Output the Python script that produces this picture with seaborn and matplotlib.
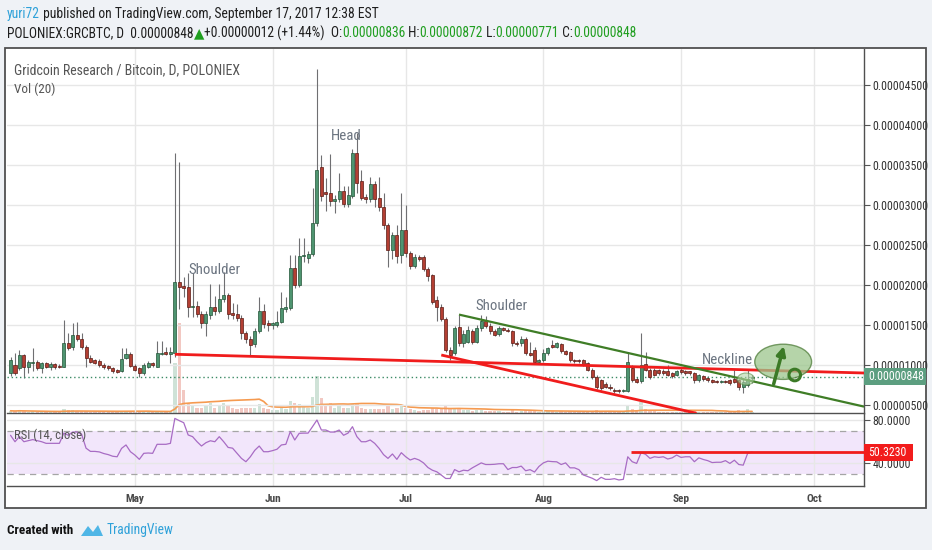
import numpy as np
import pandas as pd
import matplotlib
matplotlib.use("Agg")
import matplotlib.pyplot as plt
import matplotlib.dates as mdates
from matplotlib.patches import Rectangle, Ellipse, Polygon
import seaborn as sns
import logging
logging.getLogger("matplotlib.font_manager").setLevel(logging.ERROR)

# ---------------- data (prices in units of 1e-6 BTC) -------------
START, END = "2017-04-03", "2017-09-17"

open_apr = [8.96,10.0,9.6,11.3,9.8,10.3,10.4,9.6,10.2,9.8,10.1,9.9,9.8,12.8,12.3,13.75,13.3,12.3,10.85,10.6,10.5,10.0,9.9,9.6,9.35,9.2,10.9,11.4]
high_apr = [11.0,11.46,11.9,11.4,10.6,12.1,10.6,10.4,10.4,10.4,10.3,10.1,15.6,14.0,15.3,15.4,14.0,12.5,11.2,10.8,10.7,10.2,10.0,9.8,9.5,12.1,12.1,11.6]
low_apr = [8.6,8.75,9.4,8.4,9.0,9.3,9.4,9.0,9.6,9.4,9.5,9.6,9.7,11.9,11.9,13.0,12.0,9.8,10.2,10.1,9.8,9.5,9.4,9.0,9.0,9.1,10.7,9.8]
close_apr = [10.6,9.0,11.3,9.8,10.4,10.4,9.6,10.2,9.8,10.1,9.8,9.8,12.7,12.1,13.75,13.3,12.3,10.85,10.4,10.3,9.95,9.7,9.6,9.2,9.15,10.8,11.4,9.9]

open_may = [9.9,9.6,9.0,9.8,10.2,9.8,11.4,11.6,11.4,11.5,20.4,19.9,19.7,17.2,17.4,16.4,15.2,16.3,17.3,16.8,18.2,18.7,16.5,16.4,15.9,14.0,13.2,12.6,14.3,16.8,15.2]
high_may = [10.1,9.8,10.3,10.5,10.4,13.0,13.0,12.3,12.2,36.5,35.4,21.0,21.5,21.5,18.0,16.8,16.8,20.1,18.6,20.1,21.6,19.0,17.7,17.6,16.2,14.3,13.6,14.6,18.5,17.6,15.6]
low_may = [9.2,8.5,8.7,9.6,9.8,9.7,11.2,11.2,10.2,11.0,17.0,18.5,16.0,16.0,16.0,14.6,13.6,15.8,16.3,16.5,17.9,15.8,15.8,15.5,13.3,12.8,11.2,12.3,14.0,14.6,14.3]
close_may = [9.4,8.96,10.0,10.2,10.0,11.5,11.5,11.4,11.6,20.4,19.8,19.6,17.3,17.4,16.4,15.2,16.4,17.3,16.7,18.2,18.7,16.4,16.3,15.9,14.0,13.2,12.5,14.3,16.8,15.1,15.0]

open_jun = [15.0,15.0,15.4,17.0,17.1,22.1,20.0,23.6,23.4,23.9,27.7,34.8,31.6,31.5,30.5,30.7,31.7,30.1,31.1,36.5,33.0,31.0,30.7,32.6,30.9,29.7,27.5,24.4,26.3,23.7]
high_jun = [15.4,16.8,19.1,18.5,23.8,23.8,25.9,25.9,24.2,32.1,47.0,36.2,33.4,36.4,31.2,34.0,32.4,32.4,37.0,39.0,34.4,31.4,33.5,33.0,33.5,31.5,27.8,26.6,27.5,31.5]
low_jun = [14.5,14.8,15.2,16.6,16.9,19.6,19.8,22.9,22.8,23.6,27.4,30.5,29.3,29.9,29.0,30.4,29.8,29.8,30.9,31.5,30.6,30.2,30.4,29.8,29.3,27.0,22.3,23.3,22.8,22.8]
close_jun = [15.2,15.4,17.1,17.2,22.1,20.0,23.6,23.7,23.9,27.8,34.4,31.1,31.4,30.5,30.8,31.7,30.1,31.2,36.5,32.8,30.9,30.7,32.6,30.8,29.7,27.45,24.4,26.3,23.6,26.9]

open_jul = [26.9,24.0,22.4,23.5,23.5,22.0,21.2,18.1,17.3,15.7,11.9,11.5,14.7,12.7,12.9,14.2,12.9,14.6,15.5,14.9,14.2,13.9,14.6,14.4,14.2,12.8,12.7,13.3,11.5,11.9,10.4]
high_jul = [30.0,24.3,23.9,23.8,23.7,22.3,21.4,18.6,17.6,16.0,12.2,14.9,16.3,14.4,14.9,14.5,15.0,16.2,16.1,15.2,14.5,14.9,14.8,14.6,14.4,13.0,13.6,13.5,12.9,12.2,10.8]
low_jul = [23.5,22.0,22.1,23.0,21.7,20.5,17.6,15.5,15.5,11.6,10.6,11.3,12.4,12.3,12.7,12.6,12.7,14.3,14.6,13.9,13.6,13.6,14.2,14.1,12.4,12.4,12.4,11.3,11.1,10.2,10.2]
close_jul = [24.0,22.4,23.5,23.3,22.0,21.1,17.9,17.3,15.8,11.9,11.3,14.6,12.7,13.9,14.4,12.9,14.6,15.5,14.9,14.2,13.8,14.6,14.4,14.3,12.7,12.6,13.3,11.5,11.3,10.4,10.6]

open_aug = [10.6,11.5,12.5,12.3,12.6,11.7,11.6,10.6,10.6,10.6,10.2,9.4,8.5,8.1,7.6,7.3,6.9,6.9,6.7,6.7,9.6,8.3,8.0,10.1,9.4,9.4,9.4,9.3,9.2,8.96,8.75]
high_aug = [12.0,12.3,13.1,12.9,12.8,11.9,11.8,10.8,10.8,10.8,10.4,9.6,8.7,8.3,7.9,7.6,7.1,7.0,7.0,11.65,10.0,8.5,13.96,11.65,9.6,9.6,9.5,9.5,10.0,9.1,9.4]
low_aug = [10.4,11.3,12.1,12.1,11.5,11.2,10.4,10.3,10.3,9.9,9.2,8.3,7.0,6.9,7.1,6.9,6.5,6.5,6.6,6.6,7.9,7.7,7.8,9.2,8.3,8.6,8.8,8.8,8.6,8.4,8.6]
close_aug = [11.5,12.1,12.3,12.8,11.7,11.4,10.6,10.5,10.5,10.1,9.38,8.5,7.2,7.1,7.3,7.1,6.7,6.7,6.9,10.4,8.1,7.9,10.0,9.4,8.5,8.75,8.96,8.96,8.75,8.6,9.2]

open_sep = [9.4,9.2,9.2,9.0,8.1,8.6,8.4,8.1,8.0,7.9,8.0,8.1,8.3,8.1,7.3,7.5,8.36]
high_sep = [9.6,9.4,9.3,9.1,8.9,8.8,8.6,8.2,8.1,8.1,8.1,8.2,9.4,8.3,8.3,9.4,8.72]
low_sep = [8.9,8.8,8.8,7.7,7.9,8.0,7.9,7.8,7.8,7.8,7.8,7.5,7.8,6.9,6.5,7.3,7.71]
close_sep = [9.1,8.96,8.96,8.1,8.75,8.2,8.1,7.9,7.9,8.0,7.9,7.7,7.9,7.3,7.9,8.3,8.48]

vol_apr = [0.6,0.5,0.7,0.5,0.4,0.5,0.4,0.3,0.3,0.3,0.3,0.3,1.2,0.8,0.9,0.6,0.5,0.6,0.4,0.3,0.3,0.3,0.3,0.3,0.4,0.6,0.5,0.4]
vol_may = [0.4,0.5,0.5,0.3,0.3,0.6,0.5,0.4,0.5,13.7,24.6,6.3,2.5,2.0,1.5,1.3,1.8,2.8,1.5,2.0,2.8,2.0,1.5,1.2,1.5,1.3,1.5,1.3,2.5,1.3,1.0]
vol_jun = [0.8,0.8,1.5,1.2,3.2,2.8,2.5,2.0,1.5,4.5,10.0,4.2,2.0,2.8,1.5,1.8,1.5,1.5,2.5,2.8,1.5,1.0,1.2,1.2,1.0,1.2,1.8,1.2,1.3,2.0]
vol_jul = [1.5,1.0,0.8,0.6,0.8,0.8,1.5,1.2,1.0,2.0,1.2,1.5,1.3,0.8,0.8,0.6,0.8,0.8,0.6,0.5,0.5,0.5,0.4,0.4,0.7,0.4,0.5,0.7,0.5,0.6,0.4]
vol_aug = [0.5,0.5,0.5,0.4,0.5,0.4,0.5,0.3,0.3,0.4,0.5,0.6,0.8,0.6,0.4,0.4,0.4,0.3,0.4,2.0,1.2,0.8,3.0,1.2,0.6,0.5,0.4,0.4,0.4,0.4,0.4]
vol_sep = [0.4,0.3,0.3,0.5,0.4,0.3,0.3,0.3,0.3,0.3,0.3,0.4,0.6,0.8,0.6,1.0,0.4]

rsi_apr = [66,60,64.7,60,61,62,61,60,58.5,58.5,58.5,58.5,68,66,69,69,67,54,51,51,50.5,49,48,46.5,46,53.8,57,50.7]
rsi_may = [47.6,43.6,49.2,49.5,49.2,57.6,57.6,57.6,58.5,81.7,79.6,77.7,66.3,64.7,60,56,59.1,60.9,60,64.7,60,54.7,54,49.2,44.5,41.4,46,52,56,50.7,50.7]
rsi_jun = [51.7,53,57,57.6,69.4,61.6,67.8,68,68,74,80.2,70.9,70.9,69,69,70.9,66,68,74,64.7,60,60,61.6,58.5,53.8,48,44.5,48.6,43.6,49.8]
rsi_jul = [46,43,44.5,43,40.3,36,33.5,32,29,25.8,25.8,34.1,32,33.5,33,35.7,38,40.3,38.8,38.8,39,39.5,39.5,34.1,36,36,37.3,33,34,31.8,37]
rsi_aug = [40.3,41.9,41.5,41.3,38.8,40.3,35.7,35.7,34,29.1,27.6,26,23.8,26.9,25,25,25.6,24.4,25,46,41.4,39.8,49.8,48.3,44.5,46,45.4,46,43.9,45,47.6]
rsi_sep = [45.4,46,46,41.4,45,43.5,42.4,40.6,40.9,40.9,42.4,39.8,42.8,38.8,38.2,49.2,50.323]

price_ticks = [5, 10, 15, 20, 25, 30, 35, 40, 45]
price_tick_labels = ["0.00000500", "0.00001000", "0.00001500", "0.00002000", "0.00002500",
                     "0.00003000", "0.00003500", "0.00004000", "0.00004500"]
rsi_ticks = [40, 80]
rsi_tick_labels = ["40.0000", "80.0000"]
month_starts = ["2017-05-01", "2017-06-01", "2017-07-01", "2017-08-01", "2017-09-01", "2017-10-01"]
month_labels = ["May", "Jun", "Jul", "Aug", "Sep", "Oct"]

last_price = 8.48
last_price_label = "0.00000848"
rsi_level = 50.323
rsi_level_label = "50.3230"
rsi_level_start = "2017-08-20 16:00"

# drawn trend lines: (date, price)
neckline = [("2017-05-10", 11.34), ("2017-10-12 05:00", 9.0)]
lower_red = [("2017-07-09", 11.25), ("2017-09-04 12:00", 3.96)]
green_line = [("2017-07-13", 16.3), ("2017-10-12 05:00", 4.8)]

# ---------------- assemble -------------
df = pd.DataFrame({
    "date": pd.date_range(START, END, freq="D"),
    "open": open_apr + open_may + open_jun + open_jul + open_aug + open_sep,
    "high": high_apr + high_may + high_jun + high_jul + high_aug + high_sep,
    "low": low_apr + low_may + low_jun + low_jul + low_aug + low_sep,
    "close": close_apr + close_may + close_jun + close_jul + close_aug + close_sep,
    "volume": vol_apr + vol_may + vol_jun + vol_jul + vol_aug + vol_sep,
    "rsi": rsi_apr + rsi_may + rsi_jun + rsi_jul + rsi_aug + rsi_sep,
})
df["x"] = mdates.date2num(df["date"])
df["vol_ma"] = df["volume"].rolling(20, min_periods=1).mean()
up = df["close"] >= df["open"]

def dnum(s):
    return mdates.date2num(pd.Timestamp(s))

may1 = dnum("2017-05-01")

sns.set_style("white")
FAM = ["Liberation Sans Narrow", "DejaVu Sans Condensed", "Roboto Condensed", "Roboto", "DejaVu Sans"]
plt.rcParams["font.family"] = FAM

W, H = 932, 550
fig = plt.figure(figsize=(W / 100, H / 100), dpi=100)
fig.patch.set_facecolor("#eff2f6")
renderer = fig.canvas.get_renderer()

def fx(px):
    return px / W

def fy(py):
    return 1 - py / H

def fit_size(s, target, weight="normal", base=10.0):
    t = fig.text(0, 0, s, fontsize=base, fontweight=weight, family=FAM)
    w = t.get_window_extent(renderer).width
    t.remove()
    return base * target / w

frame = Rectangle((fx(5), fy(508)), fx(926) - fx(5), fy(48) - fy(508), transform=fig.transFigure,
                  facecolor="white", edgecolor="#505050", lw=1.3, zorder=-1)
fig.patches.append(frame)

ax = fig.add_axes([fx(7), fy(413), fx(864) - fx(7), fy(49) - fy(413)])
axv = ax.twinx()
axr = fig.add_axes([fx(7), fy(486), fx(864) - fx(7), fy(414) - fy(486)], sharex=ax)

axv.set_zorder(0)
ax.set_zorder(1)
ax.patch.set_visible(False)
axv.set_facecolor("white")

xmin, xmax = may1 - 28.8, may1 + 164.2
TICK_FS = fit_size("0.00004000", 55)
MONTH_FS = fit_size("May", 19, "bold")

# ---- volume ----
vcol = np.where(up, "#6ba583", "#d75442")
axv.bar(df["x"], df["volume"], width=0.75, color=vcol, alpha=0.32, linewidth=0)
sns.lineplot(x=df["x"].values, y=df["vol_ma"].values, ax=axv, color="#f59a50", lw=1.2, legend=False)
axv.set_ylim(0, 99.5)
axv.set_yticks([])
axv.set_ylabel("")
for s in axv.spines.values():
    s.set_visible(False)

# ---- grid & candles ----
ax.set_xlim(xmin, xmax)
ax.set_ylim(4.0, 49.5)
month_x = [dnum(m) for m in month_starts]
ax.set_xticks(month_x)
ax.set_yticks(price_ticks)
ax.grid(True, color="#e7e7e7", lw=1.0)
ax.set_axisbelow(True)

ax.vlines(df["x"], df["low"], df["high"], color="#6f6f72", lw=0.8, zorder=2)
body_bottom = np.minimum(df["open"], df["close"])
body_h = np.maximum(np.abs(df["close"] - df["open"]), 0.09)
ax.bar(df["x"], body_h, bottom=body_bottom, width=0.68,
       color=np.where(up, "#4e9470", "#b33f33"),
       edgecolor=np.where(up, "#225437", "#5b1a13"), linewidth=0.5, zorder=3)

ax.axhline(last_price, color="#3d8b66", ls=(0, (1, 2)), lw=1.0, zorder=2)

for pts, col, lw in [(neckline, "#f01c1c", 2.0), (lower_red, "#f01c1c", 2.0), (green_line, "#3f7d26", 1.6)]:
    ax.plot([dnum(pts[0][0]), dnum(pts[1][0])], [pts[0][1], pts[1][1]], color=col, lw=lw,
            solid_capstyle="butt", zorder=4)

# annotation drawings
ax.add_patch(Ellipse((may1 + 146.0, 10.4), 12.8, 4.4, facecolor="#9cc68c", alpha=0.75,
                     edgecolor="#4f7d3a", lw=1.0, zorder=5))
ax.add_patch(Ellipse((may1 + 137.6, 8.25), 3.8, 1.5, facecolor="#b5d6a8", alpha=0.6,
                     edgecolor="#5f8f4a", lw=0.8, zorder=5))
ax.annotate("", xy=(may1 + 146.3, 12.7), xytext=(may1 + 143.7, 7.3),
            arrowprops=dict(arrowstyle="-|>", color="#3b7a26", lw=2.5, mutation_scale=13), zorder=6)
ax.add_patch(Ellipse((may1 + 148.6, 8.75), 2.6, 1.45, fill=False, edgecolor="#3b7a26", lw=2.2, zorder=6))

ax.yaxis.tick_right()
ax.set_yticklabels(price_tick_labels, fontsize=TICK_FS, color="#333333", family=FAM)
ax.tick_params(axis="y", length=4, width=0.8, color="#555555", pad=2, direction="out")
ax.tick_params(axis="x", length=0, labelbottom=False)
for side in ["left", "top"]:
    ax.spines[side].set_visible(False)
for side in ["right", "bottom"]:
    ax.spines[side].set_color("#505050")
    ax.spines[side].set_linewidth(1.0)

# ---- RSI ----
axr.axhspan(30, 70, color="#f2e6fb", lw=0, zorder=0)
axr.axhline(70, color="#a5a5a5", ls=(0, (5, 4)), lw=0.9, zorder=1)
axr.axhline(30, color="#a5a5a5", ls=(0, (5, 4)), lw=0.9, zorder=1)
sns.lineplot(x=df["x"].values, y=df["rsi"].values, ax=axr, color="#a86cc4", lw=0.9, legend=False, zorder=3)
axr.hlines(rsi_level, dnum(rsi_level_start), xmax, color="#f01c1c", lw=2.0, zorder=4)
axr.set_ylim(18.8, 85.8)
axr.set_xlim(xmin, xmax)
axr.set_yticks(rsi_ticks)
axr.yaxis.tick_right()
axr.set_yticklabels(rsi_tick_labels, fontsize=TICK_FS, color="#333333", family=FAM)
axr.set_xticks(month_x)
axr.set_xticklabels(month_labels, fontsize=MONTH_FS, color="#4a4a4a", fontweight="bold", family=FAM)
axr.tick_params(axis="y", length=4, width=0.8, color="#555555", pad=2, direction="out")
axr.tick_params(axis="x", length=3, width=0.8, color="#555555", pad=3, direction="out")
axr.grid(True, color="#e7e7e7", lw=1.0)
axr.set_axisbelow(True)
axr.set_xlabel("")
axr.set_ylabel("")
ax.set_xlabel("")
ax.set_ylabel("")
for side in ["left", "top"]:
    axr.spines[side].set_visible(False)
for side in ["right", "bottom"]:
    axr.spines[side].set_color("#505050")
    axr.spines[side].set_linewidth(1.0)

# ---- axis value labels ----
fig.patches.append(Rectangle((fx(864), fy(385)), fx(926) - fx(864), fy(368) - fy(385),
                             transform=fig.transFigure, facecolor="#5c9e80", edgecolor="none", zorder=5))
fig.text(fx(868), fy(376.5), last_price_label, color="white", fontsize=TICK_FS, va="center", ha="left",
         family=FAM, zorder=6)
fig.patches.append(Rectangle((fx(864), fy(461)), fx(913) - fx(864), fy(444) - fy(461),
                             transform=fig.transFigure, facecolor="#f21c1c", edgecolor="none", zorder=5))
fig.text(fx(868), fy(452.5), rsi_level_label, color="white", fontsize=TICK_FS, va="center", ha="left",
         family=FAM, zorder=6)

# ---- texts ----
def ftext(x, y, s, **kw):
    kw.setdefault("va", "center")
    kw.setdefault("ha", "left")
    kw.setdefault("family", FAM)
    return fig.text(fx(x), fy(y), s, **kw)

def chain(x, y, parts, target_width):
    size = fit_size("".join(p[0] for p in parts), target_width)
    for s, color, weight in parts:
        t = ftext(x, y, s, color=color, fontsize=size, fontweight=weight)
        x += t.get_window_extent(renderer).width

BLUE = "#2ea1d9"
K = "#1e1e1e"
G = "#1f9e1f"
chain(7, 14, [("yuri72", BLUE, "normal"),
              (" published on TradingView.com, September 17, 2017 12:38 EST", K, "normal")], 370)
chain(7, 33, [("POLONIEX:GRCBTC, D  0.00000848", K, "normal"), ("\u25B2", G, "normal"),
              ("+0.00000012 (+1.44%)  O:", K, "normal"), ("0.00000836", G, "normal"),
              (" H:", K, "normal"), ("0.00000872", G, "normal"),
              (" L:", K, "normal"), ("0.00000771", G, "normal"),
              (" C:", K, "normal"), ("0.00000848", G, "normal")], 625)

LBL = "#555555"
ftext(14, 70, "Gridcoin Research / Bitcoin, D, POLONIEX", color=LBL,
      fontsize=fit_size("Gridcoin Research / Bitcoin, D, POLONIEX", 225))
ftext(14, 89, "Vol (20)", color=LBL, fontsize=fit_size("Vol (20)", 41))
ftext(14, 435, "RSI (14, close)", color=LBL, fontsize=fit_size("RSI (14, close)", 72), zorder=6)

ANN = "#6b7480"
ANN_FS = fit_size("Shoulder", 52)
ftext(331, 136, "Head", color=ANN, fontsize=ANN_FS, zorder=6)
ftext(188, 270, "Shoulder", color=ANN, fontsize=ANN_FS, zorder=6)
ftext(475, 306, "Shoulder", color=ANN, fontsize=ANN_FS, zorder=6)
ftext(702, 360, "Neckline", color=ANN, fontsize=ANN_FS, zorder=6)

ftext(7, 530, "Created with", color="#111111", fontsize=fit_size("Created with", 66, "bold"),
      fontweight="bold")
fig.patches.append(Polygon([(fx(81), fy(536)), (fx(88), fy(526)), (fx(93), fy(532)),
                            (fx(98), fy(525)), (fx(103), fy(536))], closed=True,
                           transform=fig.transFigure, facecolor="#4fb6e6", edgecolor="none", zorder=5))
ftext(107, 530, "TradingView", color=BLUE, fontsize=fit_size("TradingView", 67))

fig.savefig("out.png", dpi=100, facecolor=fig.get_facecolor())
